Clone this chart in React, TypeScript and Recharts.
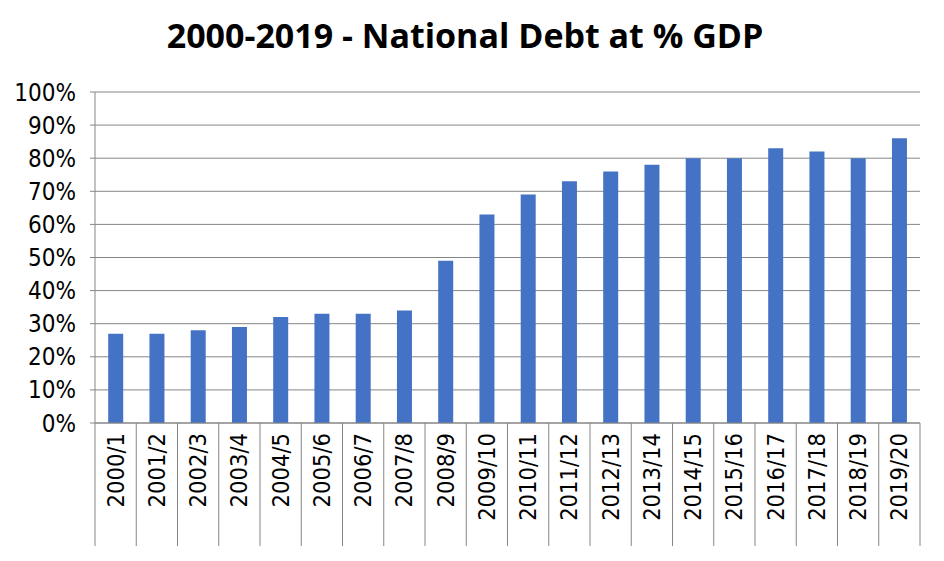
import React from "react";
import { BarChart, Bar, XAxis, YAxis, CartesianGrid } from "recharts";

const years = ["2000/1","2001/2","2002/3","2003/4","2004/5","2005/6","2006/7","2007/8","2008/9","2009/10","2010/11","2011/12","2012/13","2013/14","2014/15","2015/16","2016/17","2017/18","2018/19","2019/20"];
const debt = [27,27,28,29,32,33,33,34,49,63,69,73,76,78,80,80,83,82,80,86];
const yTicks = [0,10,20,30,40,50,60,70,80,90,100];
const data = years.map((y, i) => ({ year: y, debt: debt[i] }));

const FONT = "'DejaVu Sans Condensed', 'DejaVu Sans', sans-serif";
const BAND = 825 / 20;

const XTick = (props: any) => {
  const { x, y, payload } = props;
  return (
    <g>
      <line x1={x + BAND / 2} y1={y - 8} x2={x + BAND / 2} y2={y + 115} stroke="#868686" />
      {payload.index === 0 && <line x1={x - BAND / 2} y1={y - 8} x2={x - BAND / 2} y2={y + 115} stroke="#868686" />}
      <text x={x + 8} y={y + 2} transform={`rotate(-90, ${x + 8}, ${y + 2})`} textAnchor="end" fontSize={23.5} fill="#000" fontFamily={FONT}>
        {payload.value}
      </text>
    </g>
  );
};

export default function App() {
  return (
    <div style={{ position: "absolute", left: 0, top: 0, width: 944, height: 561, background: "#fff" }}>
      <div style={{ position: "absolute", left: 0, width: 930, top: 12, textAlign: "center", fontFamily: "'Open Sans', sans-serif", fontWeight: 700, fontSize: 34, color: "#000" }}>
        2000-2019 - National Debt at % GDP
      </div>
      <BarChart width={944} height={561} data={data} margin={{ top: 92, right: 24, left: 0, bottom: 0 }} barCategoryGap="32%">
        <CartesianGrid vertical={false} stroke="#868686" />
        <XAxis dataKey="year" height={138} interval={0} tickLine={false} axisLine={{ stroke: "#868686" }} tick={<XTick />} />
        <YAxis width={95} domain={[0, 100]} ticks={yTicks} interval={0} tickFormatter={(v) => `${v}%`} tickLine={{ stroke: "#868686" }} tickSize={5} axisLine={{ stroke: "#868686" }} tick={{ fontSize: 24, fill: "#000", fontFamily: FONT, dx: -12 }} />
        <Bar dataKey="debt" fill="#4472C4" isAnimationActive={false} />
      </BarChart>
    </div>
  );
}
